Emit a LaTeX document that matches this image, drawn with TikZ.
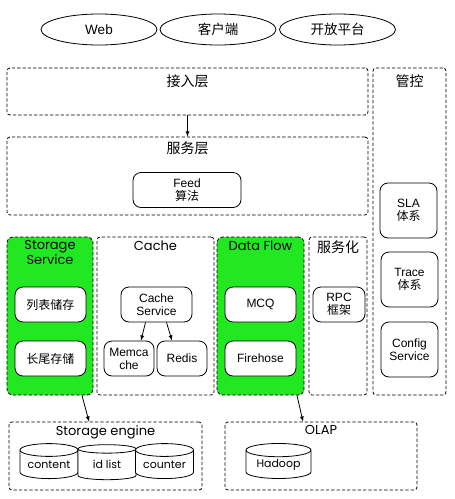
\documentclass[tikz,border=0pt]{standalone}
\usepackage{fontspec}
\setmainfont{Liberation Sans}
\newfontfamily\cjk{Noto Sans CJK SC}
\newfontfamily\gothic{Poppins}
\usepackage{tikz}
\usetikzlibrary{shapes,arrows,positioning,fit,backgrounds}
\definecolor{flowgreen}{RGB}{34,232,34}

\begin{document}
\begin{tikzpicture}[
    x=1pt, y=-1pt,
    client/.style={ellipse, draw, line width=0.8pt, minimum width=116pt, minimum height=31pt, inner sep=0, font=\fontsize{13.5}{15}\selectfont},
    group/.style={rectangle, draw, dash pattern=on 3.3pt off 2pt, rounded corners=3pt, line width=0.8pt, inner sep=0},
    greengroup/.style={group, fill=flowgreen, rounded corners=6pt},
    box/.style={rectangle, draw, rounded corners=8pt, fill=white, line width=0.8pt, align=center, inner sep=1pt, font=\fontsize{12}{13}\selectfont},
    store/.style={cylinder, shape border rotate=90, draw, aspect=0.3, minimum width=58pt, minimum height=35pt, inner sep=0, fill=white, line width=0.8pt, font=\gothic\fontsize{11}{12}\selectfont},
    title/.style={inner sep=0, align=center, font=\cjk\fontsize{14}{15}\selectfont},
    gtitle/.style={inner sep=0, align=center, font=\gothic\fontsize{13}{13}\selectfont},
    arrow/.style={-latex, line width=0.8pt}
]
    \useasboundingbox (0,0) rectangle (455,499);

    % clients
    \node[client] (web) at (99,29.5) {Web};
    \node[client] (app) at (218,29.5) {\cjk 客户端};
    \node[client] (open) at (337.5,29.5) {\cjk 开放平台};

    % layers
    \node[group, minimum width=361pt, minimum height=47pt] (access) at (187.5,91.5) {};
    \node[title, below=7pt of access.north] (accesstitle) {接入层};
    \node[group, minimum width=361pt, minimum height=78pt] (service) at (187.5,176) {};
    \node[title, below=5pt of service.north] (servicetitle) {服务层};
    \node[box, minimum width=108pt, minimum height=35pt] (feed) at (187,190) {Feed\\{\cjk 算法}};

    % control column
    \node[group, minimum width=73pt, minimum height=327pt] (control) at (409.5,231.5) {};
    \node[title, below=7pt of control.north] (controltitle) {管控};
    \node[box, minimum width=57pt, minimum height=55pt] (sla) at (408.5,210.5) {SLA\\{\cjk 体系}};
    \node[box, minimum width=57pt, minimum height=55pt] (trace) at (409.5,279.5) {Trace\\{\cjk 体系}};
    \node[box, minimum width=57pt, minimum height=55pt] (config) at (409.5,349.5) {Config\\Service};

    % middle groups
    \node[greengroup, minimum width=86pt, minimum height=158pt] (storagesvc) at (50,316) {};
    \node[gtitle, below=4pt of storagesvc.north] (storagetitle) {Storage\\Service};
    \node[box, minimum width=71pt, minimum height=35pt] (liststore) at (50.5,304.5) {\cjk 列表储存};
    \node[box, minimum width=71pt, minimum height=35pt] (tailstore) at (50.5,358.5) {\cjk 长尾存储};

    \node[group, minimum width=117pt, minimum height=158pt] (cache) at (155.5,316) {};
    \node[gtitle, below=4pt of cache.north] (cachetitle) {Cache};
    \node[box, minimum width=71pt, minimum height=35pt] (cachesvc) at (156.5,304.5) {Cache\\Service};
    \node[box, minimum width=50pt, minimum height=35pt] (memcache) at (129,358.5) {Memca\\che};
    \node[box, minimum width=50pt, minimum height=35pt] (redis) at (182,358.5) {Redis};

    \node[greengroup, minimum width=87pt, minimum height=158pt] (dataflow) at (260.5,316) {};
    \node[gtitle, below=4pt of dataflow.north] (dataflowtitle) {Data Flow};
    \node[box, minimum width=71pt, minimum height=35pt] (mcq) at (260.5,304.5) {MCQ};
    \node[box, minimum width=71pt, minimum height=35pt] (firehose) at (260.5,358.5) {Firehose};

    \node[group, minimum width=58pt, minimum height=158pt] (rpcgroup) at (338,316) {};
    \node[title, below=4pt of rpcgroup.north] (rpctitle) {服务化};
    \node[box, minimum width=52pt, minimum height=35pt] (rpc) at (339,304.5) {RPC\\{\cjk 框架}};

    % storage
    \node[group, minimum width=193pt, minimum height=68pt] (engine) at (105.5,456) {};
    \node[gtitle, below=4pt of engine.north] (enginetitle) {Storage engine};
    \node[store] (content) at (49,464.5) {content};
    \node[store] (idlist) at (107,464.5) {id list};
    \node[store] (counter) at (164.5,464.5) {counter};

    \node[group, minimum width=192pt, minimum height=68pt] (olap) at (321,456) {};
    \node[gtitle, below=4pt of olap.north] (olaptitle) {OLAP};
    \node[store, minimum width=65pt] (hadoop) at (278.5,464.5) {Hadoop};

    \draw[arrow] (access) -- (service);
    \draw[arrow] ([xshift=-11pt]cachesvc.south) -- ([xshift=12pt]memcache.north);
    \draw[arrow] ([xshift=10pt]cachesvc.south) -- ([xshift=-10pt]redis.north);
    \draw[arrow] ([xshift=32pt]storagesvc.south) -- ([xshift=-16.5pt]engine.north);
    \draw[arrow] ([xshift=36.5pt]dataflow.south) -- ([xshift=-18pt]olap.north);
\end{tikzpicture}
\end{document}
